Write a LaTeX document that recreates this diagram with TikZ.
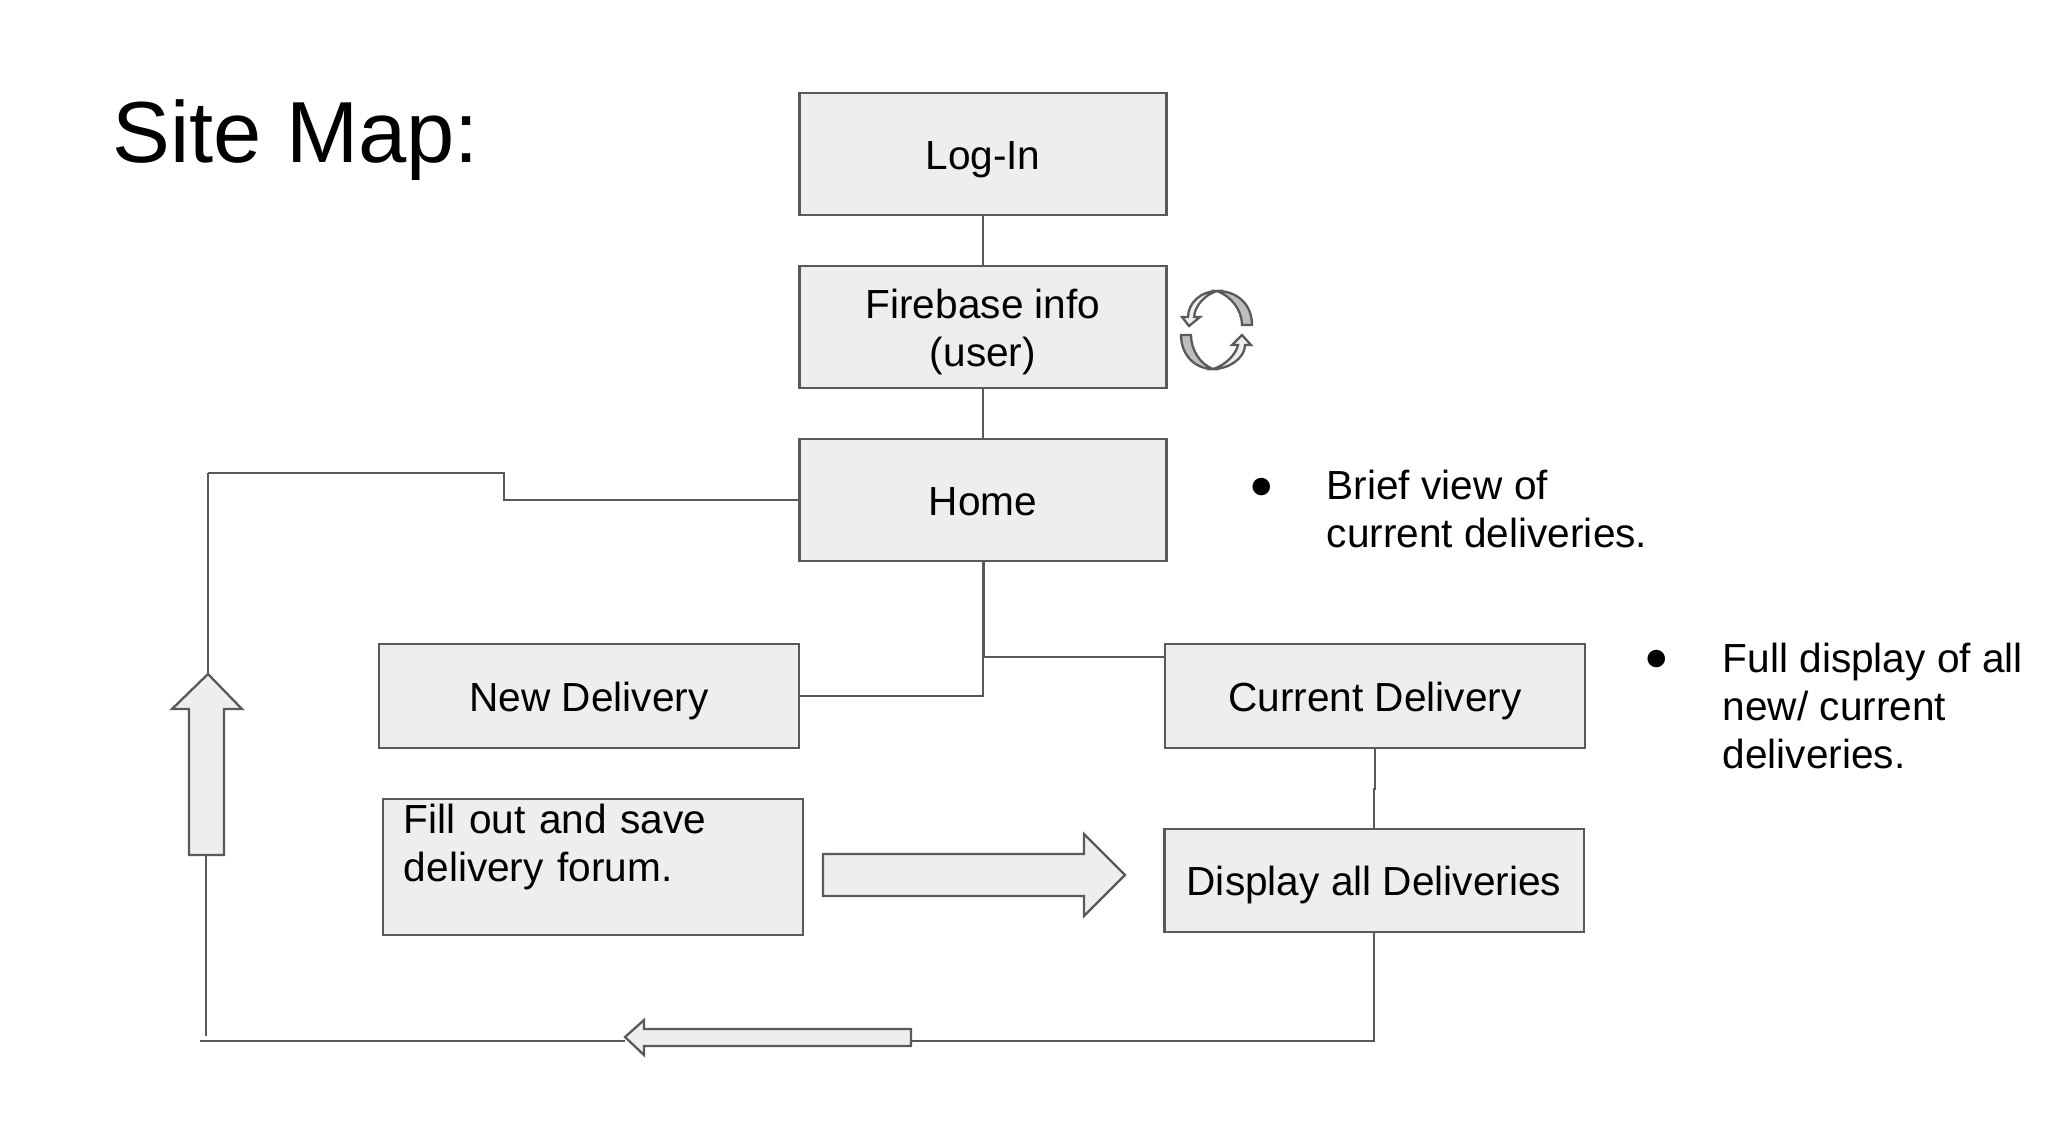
\documentclass[tikz,border=0pt]{standalone}
\usepackage{fontspec}
\setmainfont{Liberation Sans}
\definecolor{boxline}{HTML}{595959}
\definecolor{boxfill}{HTML}{EEEEEE}
\definecolor{boxdark}{HTML}{BEBEBE}
\tikzset{
    sitebox/.style={draw=boxline, line width=0.65pt, fill=boxfill, align=center, inner sep=0pt, minimum width=3.67cm, minimum height=1.22cm},
    oneline/.style={text height=8.6pt, text depth=0pt},
    widebox/.style={sitebox, oneline, minimum width=4.2cm, minimum height=1.04cm},
    sitelink/.style={draw=boxline, line width=0.65pt},
    blockarrow/.style={draw=boxline, line width=0.65pt, fill=boxfill, line join=miter},
    notetext/.style={inner sep=0pt, anchor=west, align=left},
    bodyfont/.style={font=\fontsize{11.55}{13.6}\selectfont},
}
\begin{document}
\begin{tikzpicture}[x=0.01cm, y=-0.01cm, every node/.append style={bodyfont}]
    \useasboundingbox (0,0) rectangle (2061,1141);

    \node[inner sep=0pt, anchor=west, font=\fontsize{24.65}{28}\selectfont] (title) at (112,140) {Site Map:};

    % free ends of the lines
    \coordinate (looptop) at (208,473);
    \coordinate (looptip) at (208,674);
    \coordinate (loopbase) at (206,855);
    \coordinate (loopfoot) at (206,1036);
    \coordinate (backleft) at (200,1041);
    \coordinate (backright) at (911,1041);

    \node[sitebox, oneline] (login) at (983,154) {Log-In};
    \node[sitebox] (firebase) at (983,327) {\rule{0pt}{11pt}Firebase info\\(user)};
    \node[sitebox, oneline] (home) at (983,500) {Home};
    \node[widebox] (new) at (589,696) {New Delivery};
    \node[widebox] (current) at (1375,696) {Current Delivery};
    \node[widebox, minimum width=4.19cm, minimum height=1.03cm] (display) at (1374,880.5) {Display all Deliveries};
    \node[sitebox, minimum width=4.2cm, minimum height=1.36cm, align=left, text width=3.78cm, inner xsep=0.21cm] (fill) at (593,867) {Fill out and save\\delivery forum.\\~};

    \draw[sitelink] (login) -- (firebase);
    \draw[sitelink] (firebase) -- (home);
    \draw[sitelink] (home.west) -- (504,500) -- (504,473) -- (looptop);
    \draw[sitelink] (looptop) -- (looptip);
    \draw[sitelink] (home.south) -- (983,696) -- (new.east);
    \draw[sitelink] (home.south) ++(1,0) -- (984,657) -- (1165,657);
    \draw[sitelink] (current.south) -- (1375,789) -- (1374,789) -- (display.north);
    \draw[sitelink] (display.south) -- (1374,1041) -- (backright);
    \draw[sitelink] (backleft) -- (625,1041);
    \draw[sitelink] (loopbase) -- (loopfoot);

    % block arrows
    \draw[blockarrow] (looptip) -- (242,709) -- (224,709) -- (224,855) -- (189,855) -- (189,709) -- (172,709) -- cycle;
    \draw[blockarrow] (823,854) -- (1084,854) -- (1084,834) -- (1125,875) -- (1084,916) -- (1084,896) -- (823,896) -- cycle;
    \draw[blockarrow] (625,1037) -- (644,1020) -- (644,1029) -- (backright |- 0,1029) -- (backright |- 0,1046) -- (644,1046) -- (644,1055) -- cycle;

    % refresh icon
    \draw[blockarrow, fill=boxdark] (1252,325) .. controls (1252,305) and (1238,291) .. (1217,291) .. controls (1231,296) and (1242,310) .. (1242,325) -- cycle;
    \draw[blockarrow] (1217,291) .. controls (1201,291) and (1188,303) .. (1188,317) -- (1182,317) -- (1189,326) -- (1200,317) -- (1194,317) .. controls (1195,306) and (1204,295) .. (1217,291) -- cycle;
    \draw[blockarrow, fill=boxdark] (1181,335) .. controls (1181,355) and (1195,369) .. (1213,369) .. controls (1200,364) and (1191,350) .. (1191,335) -- cycle;
    \draw[blockarrow] (1213,369) .. controls (1229,369) and (1245,358) .. (1245,345) -- (1251,345) -- (1242,335) -- (1232,345) -- (1238,345) .. controls (1236,354) and (1226,365) .. (1213,369) -- cycle;

    \node[notetext] (bulleta) at (1249,488) {●};
    \node[notetext] (notea) at (1326,509) {Brief view of\\current deliveries.};
    \node[notetext] (bulletb) at (1644,660) {●};
    \node[notetext] (noteb) at (1722,706) {Full display of all\\new/ current\\deliveries.};
\end{tikzpicture}
\end{document}
